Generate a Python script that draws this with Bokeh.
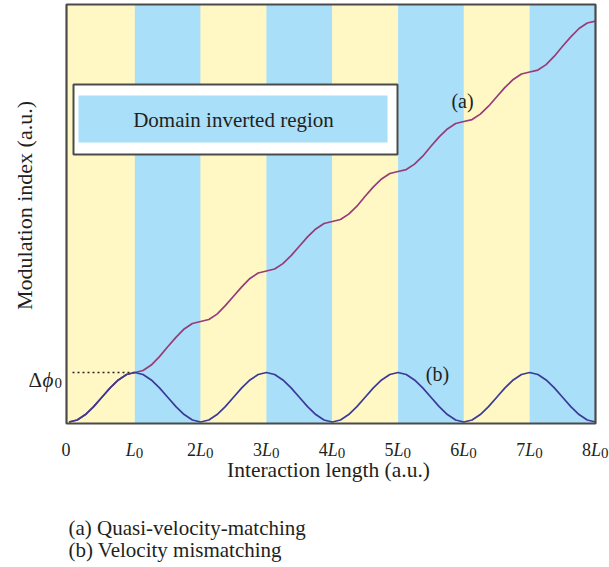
from bokeh.plotting import figure
from bokeh.models import Range1d, Label
from bokeh.embed import file_html
from bokeh.resources import INLINE

# ---------------- data ----------------
band_left = [0, 1, 2, 3, 4, 5, 6, 7]
band_right = [1, 2, 3, 4, 5, 6, 7, 8]
band_inverted = [False, True, False, True, False, True, False, True]

x_vals = [0, 0.125, 0.25, 0.375, 0.5, 0.625, 0.75, 0.875,
          1, 1.125, 1.25, 1.375, 1.5, 1.625, 1.75, 1.875,
          2, 2.125, 2.25, 2.375, 2.5, 2.625, 2.75, 2.875,
          3, 3.125, 3.25, 3.375, 3.5, 3.625, 3.75, 3.875,
          4, 4.125, 4.25, 4.375, 4.5, 4.625, 4.75, 4.875,
          5, 5.125, 5.25, 5.375, 5.5, 5.625, 5.75, 5.875,
          6, 6.125, 6.25, 6.375, 6.5, 6.625, 6.75, 6.875,
          7, 7.125, 7.25, 7.375, 7.5, 7.625, 7.75, 7.875,
          8]

# (a) quasi-velocity-matching
a_vals = [0.00, 0.04, 0.15, 0.31, 0.50, 0.69, 0.85, 0.96,
          1.00, 1.04, 1.15, 1.32, 1.52, 1.71, 1.88, 1.99,
          2.03, 2.07, 2.18, 2.35, 2.54, 2.73, 2.90, 3.01,
          3.05, 3.09, 3.20, 3.36, 3.55, 3.74, 3.90, 4.01,
          4.05, 4.09, 4.20, 4.36, 4.56, 4.75, 4.91, 5.02,
          5.06, 5.10, 5.21, 5.37, 5.57, 5.76, 5.92, 6.03,
          6.07, 6.11, 6.22, 6.38, 6.57, 6.76, 6.92, 7.03,
          7.07, 7.11, 7.22, 7.39, 7.59, 7.78, 7.95, 8.06,
          8.10]

# (b) velocity mismatching
b_vals = [0.00, 0.04, 0.15, 0.31, 0.50, 0.69, 0.85, 0.96,
          1.00, 0.96, 0.85, 0.69, 0.50, 0.31, 0.15, 0.04,
          0.00, 0.04, 0.15, 0.31, 0.50, 0.69, 0.85, 0.96,
          1.00, 0.96, 0.85, 0.69, 0.50, 0.31, 0.15, 0.04,
          0.00, 0.04, 0.15, 0.31, 0.50, 0.69, 0.85, 0.96,
          1.00, 0.96, 0.85, 0.69, 0.50, 0.31, 0.15, 0.04,
          0.00, 0.04, 0.15, 0.31, 0.50, 0.69, 0.85, 0.96,
          1.00, 0.96, 0.85, 0.69, 0.50, 0.31, 0.15, 0.04,
          0.00]

tick_pos = [0, 1, 2, 3, 4, 5, 6, 7, 8]
tick_num = ["0", "", "2", "3", "4", "5", "6", "7", "8"]
dphi0 = 1.0

# ---------------- styling / layout ----------------
YELLOW = "#fff8c4"
BLUE = "#aadff9"
PURPLE = "#963c78"
NAVY = "#3a3a98"
FRAME = "#4a4a4a"
TXT = "#231f20"
FONT = "Liberation Serif"

W, H = 609, 567
# pixel (canvas) -> data helpers for placing frame and text
X0_PX, SX = 68.5, 65.81
Y0_PX, SY = 421.5, 49.5


def dx(px):
    return (px - X0_PX) / SX


def dy(py):
    return (Y0_PX - py) / SY


FL, FR, FT, FB = 66, 595, 4, 423   # plot box edges in canvas pixels

p = figure(width=W, height=H, output_backend="svg", toolbar_location=None,
           x_range=Range1d(dx(0), dx(W)), y_range=Range1d(dy(H), dy(0)),
           min_border=0)
p.xaxis.visible = False
p.yaxis.visible = False
p.grid.visible = False
p.background_fill_color = "white"
p.border_fill_color = "white"
p.outline_line_color = None

# plot background + bands
p.quad(left=dx(FL), right=dx(FR), bottom=dy(FB), top=dy(FT),
       fill_color=YELLOW, line_color=None)
band_colors = [BLUE if inv else YELLOW for inv in band_inverted]
p.quad(left=band_left, right=band_right, bottom=dy(FB), top=dy(FT),
       fill_color=band_colors, line_color=None)

# legend box
p.quad(left=dx(73), right=dx(397), bottom=dy(154), top=dy(84),
       fill_color="white", line_color=FRAME, line_width=2)
p.quad(left=dx(78), right=dx(387), bottom=dy(142), top=dy(95),
       fill_color=BLUE, line_color=None)
p.add_layout(Label(x=dx(233), y=dy(119), text="Domain inverted region",
                   text_font=FONT, text_font_size="21px", text_color=TXT,
                   text_align="center", text_baseline="middle"))

# dotted reference line at delta phi0
p.line(x=[dx(72), tick_pos[1]], y=[dphi0, dphi0], line_color="#222222",
       line_width=1.5, line_dash="2 3")

# curves
p.line(x=x_vals, y=a_vals, line_color=PURPLE, line_width=1.7)
p.line(x=x_vals, y=b_vals, line_color=NAVY, line_width=1.7)

# frame
p.quad(left=dx(FL), right=dx(FR), bottom=dy(FB), top=dy(FT),
       fill_alpha=0, line_color=FRAME, line_width=2.2)

# curve labels
p.add_layout(Label(x=dx(462), y=dy(100), text="(a)", text_font=FONT,
                   text_font_size="20px", text_color=TXT, text_align="center",
                   text_baseline="middle"))
p.add_layout(Label(x=dx(437), y=dy(373), text="(b)", text_font=FONT,
                   text_font_size="20px", text_color=TXT, text_align="center",
                   text_baseline="middle"))

# tick labels
for k, num in zip(tick_pos, tick_num):
    if k == 0:
        p.add_layout(Label(x=k, y=dy(449), x_offset=-3, text=num, text_font=FONT,
                           text_font_size="18px", text_color=TXT,
                           text_align="center", text_baseline="alphabetic"))
        continue
    if num:
        p.add_layout(Label(x=k, y=dy(449), x_offset=-13.5, text=num, text_font=FONT,
                           text_font_size="18px", text_color=TXT,
                           text_align="left", text_baseline="alphabetic"))
        lx, zx = -4.5, 5.5
    else:
        lx, zx = -9.0, 1.0
    p.add_layout(Label(x=k, y=dy(449), x_offset=lx, text="L", text_font=FONT,
                       text_font_size="18px", text_font_style="italic",
                       text_color=TXT, text_align="left",
                       text_baseline="alphabetic"))
    p.add_layout(Label(x=k, y=dy(452), x_offset=zx, text="0", text_font=FONT,
                       text_font_size="15px", text_color=TXT,
                       text_align="left", text_baseline="alphabetic"))

# delta phi0 label
p.add_layout(Label(x=dx(28), y=dy(379), text="\u0394", text_font=FONT,
                   text_font_size="21px", text_color=TXT, text_align="left",
                   text_baseline="alphabetic"))
p.add_layout(Label(x=dx(42), y=dy(379), text="\u03d5", text_font=FONT,
                   text_font_size="21px", text_font_style="italic",
                   text_color=TXT, text_align="left", text_baseline="alphabetic"))
p.add_layout(Label(x=dx(54), y=dy(382), text="0", text_font=FONT,
                   text_font_size="15px", text_color=TXT, text_align="left",
                   text_baseline="alphabetic"))

# axis titles
p.add_layout(Label(x=dx(328), y=dy(469), text="Interaction length (a.u.)",
                   text_font=FONT, text_font_size="21.5px", text_color=TXT,
                   text_align="center", text_baseline="alphabetic"))
p.add_layout(Label(x=dx(24), y=dy(205), text="Modulation index (a.u.)",
                   text_font=FONT, text_font_size="22px", text_color=TXT,
                   text_align="center", text_baseline="middle", angle=1.5708))

# caption
p.add_layout(Label(x=dx(68), y=dy(527), text="(a) Quasi-velocity-matching",
                   text_font=FONT, text_font_size="21px", text_color=TXT,
                   text_align="left", text_baseline="alphabetic"))
p.add_layout(Label(x=dx(68), y=dy(549), text="(b) Velocity mismatching",
                   text_font=FONT, text_font_size="21px", text_color=TXT,
                   text_align="left", text_baseline="alphabetic"))

open("out.html", "w").write(file_html(p, INLINE))
